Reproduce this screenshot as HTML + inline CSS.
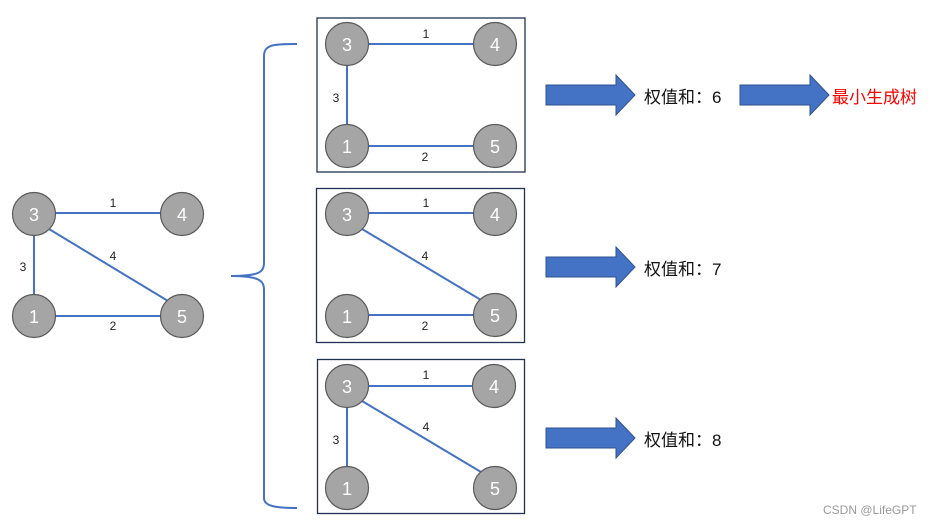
<!DOCTYPE html>
<html><head><meta charset="utf-8"><style>
html,body{margin:0;padding:0;background:#fff;}
svg{display:block;}
</style></head><body>
<svg width="930" height="524" viewBox="0 0 930 524" xmlns="http://www.w3.org/2000/svg" font-family="Liberation Sans, Noto Sans CJK SC, sans-serif">
<rect width="930" height="524" fill="#fff"/>
<defs>
<g id="n"><circle r="21.5" fill="#a5a5a5" stroke="#595959" stroke-width="1.2"/></g>
</defs>
<g stroke="#4472c4" stroke-width="2" fill="none">
<!-- left graph -->
<line x1="34" y1="213" x2="182" y2="213"/>
<line x1="34" y1="214" x2="34" y2="316"/>
<line x1="34" y1="316" x2="182" y2="316"/>
<line x1="49" y1="229" x2="168" y2="301"/>
<!-- brace -->
<path d="M297,44 C275,44 264,44 264,56 L264,262 C264,272 260,276 231,276 C260,276 264,281 264,290 L264,498 C264,506 275,508 297,508"/>
<!-- box1 -->
<line x1="347" y1="44" x2="495" y2="44"/>
<line x1="347" y1="44" x2="347" y2="146"/>
<line x1="347" y1="146" x2="495" y2="146"/>
<!-- box2 -->
<line x1="347" y1="213" x2="495" y2="213"/>
<line x1="347" y1="315" x2="495" y2="315"/>
<line x1="362" y1="229" x2="481" y2="300"/>
<!-- box3 -->
<line x1="347" y1="386" x2="494" y2="386"/>
<line x1="347" y1="386" x2="347" y2="488"/>
<line x1="362" y1="401" x2="481" y2="472"/>
</g>
<g fill="none" stroke="#1f3350" stroke-width="1.3">
<rect x="317" y="18" width="208" height="154"/>
<rect x="316.5" y="188.5" width="208" height="154"/>
<rect x="317.5" y="359.5" width="207" height="154"/>
</g>
<g>
<use href="#n" x="34" y="214"/><use href="#n" x="182" y="214"/><use href="#n" x="34" y="316"/><use href="#n" x="182" y="316"/>
<use href="#n" x="347" y="44"/><use href="#n" x="495" y="44"/><use href="#n" x="347" y="146"/><use href="#n" x="495" y="146"/>
<use href="#n" x="347" y="214"/><use href="#n" x="495" y="214"/><use href="#n" x="347" y="316"/><use href="#n" x="495" y="315"/>
<use href="#n" x="347" y="386"/><use href="#n" x="494" y="386"/><use href="#n" x="347" y="488"/><use href="#n" x="495" y="488"/>
</g>
<g fill="#fff" font-size="18" text-anchor="middle">
<text x="34" y="221">3</text><text x="182" y="221">4</text><text x="34" y="323">1</text><text x="182" y="323">5</text>
<text x="347" y="51">3</text><text x="495" y="51">4</text><text x="347" y="153">1</text><text x="495" y="153">5</text>
<text x="347" y="221">3</text><text x="495" y="221">4</text><text x="347" y="323">1</text><text x="495" y="322">5</text>
<text x="347" y="393">3</text><text x="494" y="393">4</text><text x="347" y="495">1</text><text x="495" y="495">5</text>
</g>
<g fill="#222" font-size="12" text-anchor="middle">
<text x="113" y="207">1</text><text x="23" y="271">3</text><text x="113" y="260">4</text><text x="113" y="330">2</text>
<text x="426" y="38">1</text><text x="336" y="102">3</text><text x="425" y="161">2</text>
<text x="426" y="207">1</text><text x="425" y="260">4</text><text x="425" y="330">2</text>
<text x="426" y="379">1</text><text x="336" y="444">3</text><text x="426" y="431">4</text>
</g>
<g fill="#4472c4" stroke="#2f528f" stroke-width="1">
<polygon points="546,85 616,85 616,75 635,95 616,115 616,105 546,105"/>
<polygon points="740,85 810,85 810,75 829,95 810,115 810,105 740,105"/>
<polygon points="546,257 616,257 616,247 635,267 616,287 616,277 546,277"/>
<polygon points="546,428 616,428 616,418 635,438 616,458 616,448 546,448"/>
</g>
<g fill="#111" font-size="17">
<text x="644" y="103">权值和：6</text>
<text x="644" y="275">权值和：7</text>
<text x="644" y="446">权值和：8</text>
</g>
<text x="832" y="103" fill="#ff0000" font-size="17">最小生成树</text>
<text x="823" y="514" fill="#999" font-size="12">CSDN @LifeGPT</text>
</svg>
</body></html>
